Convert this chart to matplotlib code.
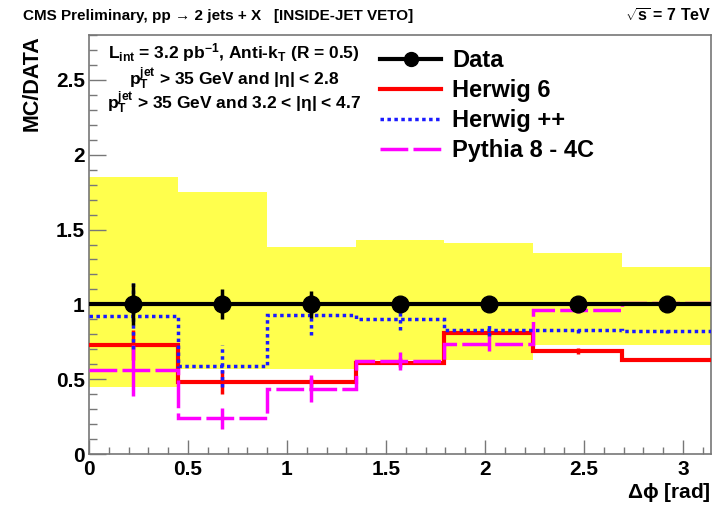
import numpy as np
import matplotlib
matplotlib.use("Agg")
import matplotlib.pyplot as plt
from matplotlib.lines import Line2D
from matplotlib.ticker import MultipleLocator

plt.rcParams['font.family'] = ['Liberation Sans', 'DejaVu Sans']
plt.rcParams['font.weight'] = 'bold'
plt.rcParams['mathtext.fontset'] = 'custom'
plt.rcParams['mathtext.rm'] = 'Liberation Sans:bold'
plt.rcParams['mathtext.it'] = 'Liberation Sans:bold'
plt.rcParams['mathtext.bf'] = 'Liberation Sans:bold'

# 7 bins in delta phi between 0 and pi
edges = np.linspace(0, np.pi, 8)
centers = 0.5 * (edges[:-1] + edges[1:])

# systematic band on data (yellow)
band_hi = [1.85, 1.75, 1.38, 1.43, 1.41, 1.34, 1.25]
band_lo = [0.45, 0.57, 0.57, 0.63, 0.63, 0.73, 0.73]

data_val = [1.0, 1.0, 1.0, 1.0, 1.0, 1.0, 1.0]
data_err = [0.14, 0.10, 0.09, 0.05, 0.03, 0.02, 0.02]

herwig6_val = [0.73, 0.48, 0.48, 0.61, 0.81, 0.686, 0.63]
herwig6_err = [0.10, 0.08, 0.03, 0.03, 0.02, 0.02, 0.01]

herwigpp_val = [0.92, 0.59, 0.927, 0.90, 0.83, 0.83, 0.82]
herwigpp_err = [0.22, 0.14, 0.13, 0.07, 0.04, 0.02, 0.01]

pythia_val = [0.56, 0.24, 0.435, 0.62, 0.737, 0.96, 1.01]
pythia_err = [0.17, 0.07, 0.09, 0.06, 0.05, 0.02, 0.02]

fig = plt.figure(figsize=(7.15, 5.08), dpi=100)
ax = fig.add_axes([89 / 715, 54 / 508, 622 / 715, 419 / 508])

band_lo_a = np.array(band_lo)
ax.bar(centers, np.array(band_hi) - band_lo_a, width=edges[1] - edges[0],
       bottom=band_lo_a, color='#ffff4d', edgecolor='none', zorder=1)

ax.stairs(herwig6_val, edges, color='red', lw=3, baseline=None, zorder=3)
ax.vlines(centers, np.array(herwig6_val) - herwig6_err,
          np.array(herwig6_val) + herwig6_err, colors='red', lw=2.5, zorder=3)

ax.stairs(pythia_val, edges, color='magenta', lw=2.5, ls=(0, (8, 1.5)),
          baseline=None, zorder=3)
ax.vlines(centers, np.array(pythia_val) - pythia_err,
          np.array(pythia_val) + pythia_err, colors='magenta', lw=2.5, zorder=3)

ax.stairs(herwigpp_val, edges, color='#1a1aff', lw=2.5, ls=(0, (1, 1)),
          baseline=None, zorder=4)
ax.vlines(centers, np.array(herwigpp_val) - herwigpp_err,
          np.array(herwigpp_val) + herwigpp_err, colors='#1a1aff', lw=2.5,
          linestyles=(0, (1, 1)), zorder=4)

ax.stairs(data_val, edges, color='black', lw=3, baseline=None, zorder=5)
ax.errorbar(centers, data_val, yerr=data_err, fmt='o', color='black', ms=12,
            elinewidth=2.5, capsize=0, zorder=6)

ax.set_xlim(0, np.pi)
ax.set_ylim(0, 2.8)
ax.xaxis.set_minor_locator(MultipleLocator(0.1))
ax.yaxis.set_minor_locator(MultipleLocator(0.1))
ax.set_xticks([0, 0.5, 1, 1.5, 2, 2.5, 3], ['0', '0.5', '1', '1.5', '2', '2.5', '3'])
ax.set_yticks([0, 0.5, 1, 1.5, 2, 2.5], ['0', '0.5', '1', '1.5', '2', '2.5'])
ax.tick_params(which='both', direction='in', top=False, right=False,
               color='#777777', labelsize=15, width=1)
ax.tick_params(axis='x', which='major', length=10, pad=4)
ax.tick_params(axis='x', which='minor', length=5)
ax.tick_params(axis='y', which='major', length=12, pad=3)
ax.tick_params(axis='y', which='minor', length=6)
for s in ax.spines.values():
    s.set_color('#777777')
    s.set_linewidth(1.2)

ax.set_ylabel('MC/DATA', fontsize=15.5, fontweight='bold')
ax.yaxis.set_label_coords(-0.075, 1.0)
ax.yaxis.label.set_ha('right')
ax.set_xlabel(r'$\Delta\phi$ [rad]', fontsize=15, fontweight='bold')
ax.xaxis.set_label_coords(1.0, -0.093)
ax.xaxis.label.set_ha('right')
ax.xaxis.label.set_va('center')

fig.text(23 / 715, 1 - 16 / 508,
         'CMS Preliminary, pp \u2192 2 jets + X   [INSIDE-JET VETO]',
         fontsize=11, fontweight='bold', va='center', ha='left')
fig.text(711 / 715, 1 - 16 / 508, r'$\sqrt{s}$ = 7 TeV',
         fontsize=11.5, fontweight='bold', va='center', ha='right')

fig.text(234 / 715, 1 - 53 / 508,
         r'L$_{\rm int}$ = 3.2 pb$^{-1}$, Anti-k$_{\rm T}$ (R = 0.5)',
         fontsize=12.5, ha='center', va='center')
fig.text(234 / 715, 1 - 79 / 508,
         r'p$_{\rm T}^{\rm jet}$ > 35 GeV and |$\eta$| < 2.8',
         fontsize=12.5, ha='center', va='center')
fig.text(234 / 715, 1 - 103 / 508,
         r'p$_{\rm T}^{\rm jet}$ > 35 GeV and 3.2 < |$\eta$| < 4.7',
         fontsize=12.5, ha='center', va='center')

handles = [
    Line2D([], [], color='black', lw=3, marker='o', ms=10),
    Line2D([], [], color='red', lw=3),
    Line2D([], [], color='#1a1aff', lw=2.5, ls=(0, (1, 1))),
    Line2D([], [], color='magenta', lw=2.5, ls=(0, (8, 1.5))),
]
labels = ['Data', 'Herwig 6', 'Herwig ++', 'Pythia 8 - 4C']
ax.legend(handles, labels, loc='upper left', frameon=False,
          bbox_to_anchor=(380 / 715, 1 - 49 / 508), bbox_transform=fig.transFigure,
          borderpad=0, borderaxespad=0, handlelength=2.6, handletextpad=0.45,
          labelspacing=0.3, prop={'size': 17, 'weight': 'bold'})

fig.savefig('out.png', dpi=100)
